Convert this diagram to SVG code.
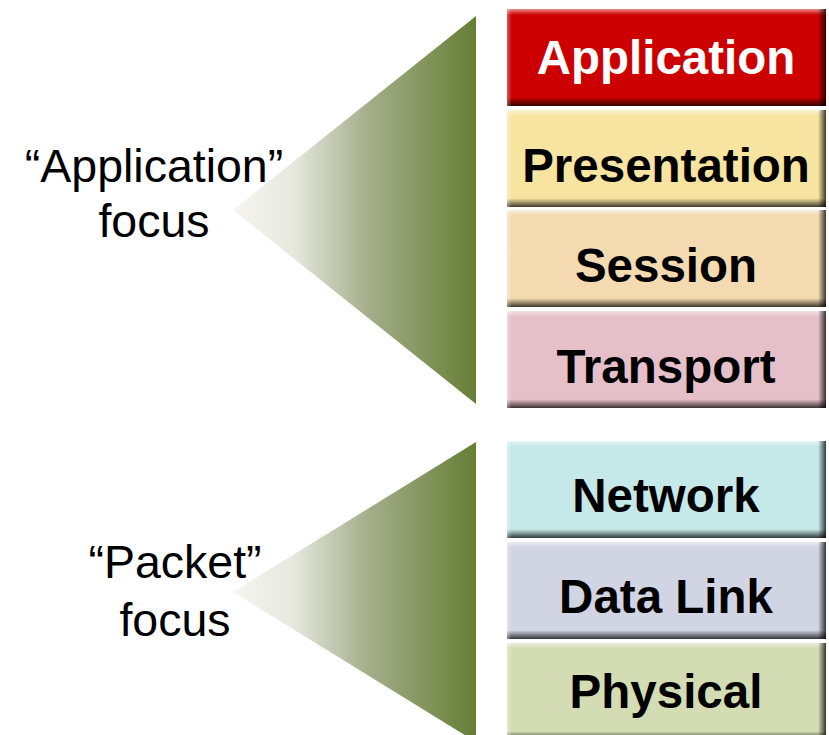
<svg xmlns="http://www.w3.org/2000/svg" width="829" height="735" viewBox="0 0 829 735">
<defs>
<linearGradient id="tri" x1="0" y1="0" x2="1" y2="0">
<stop offset="0" stop-color="#F6F6F0"/>
<stop offset="0.25" stop-color="#E6E8DE"/>
<stop offset="0.55" stop-color="#A5AF8C"/>
<stop offset="1" stop-color="#667E35"/>
</linearGradient>
<linearGradient id="shV" x1="0" y1="0" x2="0" y2="1">
<stop offset="0" stop-color="#fff" stop-opacity="0.55"/>
<stop offset="0.06" stop-color="#fff" stop-opacity="0"/>
<stop offset="0.91" stop-color="#000" stop-opacity="0"/>
<stop offset="1" stop-color="#000" stop-opacity="0.75"/>
</linearGradient>
<linearGradient id="shH" x1="0" y1="0" x2="1" y2="0">
<stop offset="0" stop-color="#fff" stop-opacity="0.35"/>
<stop offset="0.015" stop-color="#fff" stop-opacity="0"/>
<stop offset="0.975" stop-color="#000" stop-opacity="0"/>
<stop offset="1" stop-color="#000" stop-opacity="0.75"/>
</linearGradient>
</defs>
<style>
.box{stroke:none}
.bev1{fill:url(#shV)}
.bev2{fill:url(#shH)}
.lbl{font-family:"Liberation Sans",Arial,sans-serif;font-weight:bold;font-size:47.5px;text-anchor:middle;fill:#000}
.side{font-family:"Liberation Sans",Arial,sans-serif;font-size:46.5px;text-anchor:middle;fill:#000}
</style>
<rect width="829" height="735" fill="#fff"/>
<g id="tri-app"><polygon points="233,210 476,16 476,404" fill="url(#tri)"/></g>
<g id="tri-packet"><polygon points="233,592 476,442 476,742" fill="url(#tri)"/></g>
<g id="label-app">
<text class="side" x="154" y="182">“Application”</text>
<text class="side" x="154" y="237">focus</text>
</g>
<g id="label-packet">
<text class="side" x="175" y="578">“Packet”</text>
<text class="side" x="175" y="636">focus</text>
</g>
<g id="application">
<rect class="box" x="507" y="9" width="319" height="97" fill="#CC0000"/>
<rect class="bev1" x="507" y="9" width="319" height="97"/>
<rect class="bev2" x="507" y="9" width="319" height="97"/>
<text class="lbl" x="666" y="74" style="fill:#fff">Application</text>
</g>
<g id="presentation">
<rect class="box" x="507" y="110" width="319" height="97" fill="#F7E4A0"/>
<rect class="bev1" x="507" y="110" width="319" height="97"/>
<rect class="bev2" x="507" y="110" width="319" height="97"/>
<text class="lbl" x="666" y="182">Presentation</text>
</g>
<g id="session">
<rect class="box" x="507" y="210" width="319" height="97" fill="#F3DAB0"/>
<rect class="bev1" x="507" y="210" width="319" height="97"/>
<rect class="bev2" x="507" y="210" width="319" height="97"/>
<text class="lbl" x="666" y="282">Session</text>
</g>
<g id="transport">
<rect class="box" x="507" y="311" width="319" height="97" fill="#E6C0C8"/>
<rect class="bev1" x="507" y="311" width="319" height="97"/>
<rect class="bev2" x="507" y="311" width="319" height="97"/>
<text class="lbl" x="666" y="383">Transport</text>
</g>
<g id="network">
<rect class="box" x="507" y="441" width="319" height="97" fill="#C5E8E8"/>
<rect class="bev1" x="507" y="441" width="319" height="97"/>
<rect class="bev2" x="507" y="441" width="319" height="97"/>
<text class="lbl" x="666" y="512">Network</text>
</g>
<g id="datalink">
<rect class="box" x="507" y="542" width="319" height="97" fill="#D1D4E2"/>
<rect class="bev1" x="507" y="542" width="319" height="97"/>
<rect class="bev2" x="507" y="542" width="319" height="97"/>
<text class="lbl" x="666" y="613">Data Link</text>
</g>
<g id="physical">
<rect class="box" x="507" y="643" width="319" height="97" fill="#D4DCB3"/>
<rect class="bev1" x="507" y="643" width="319" height="97"/>
<rect class="bev2" x="507" y="643" width="319" height="97"/>
<text class="lbl" x="666" y="708">Physical</text>
</g>
<g id="connectors"></g>
</svg>
